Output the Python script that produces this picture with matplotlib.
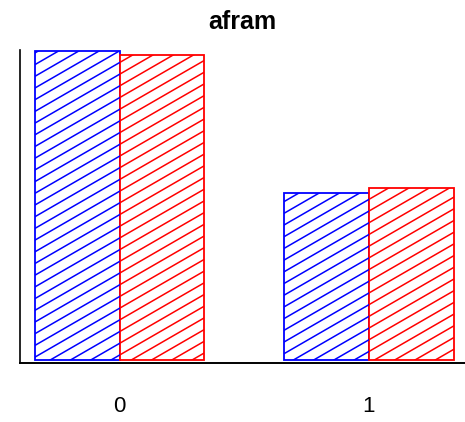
import numpy as np
import matplotlib
matplotlib.use("Agg")
import matplotlib.pyplot as plt
from matplotlib.lines import Line2D
from matplotlib.transforms import IdentityTransform

plt.rcParams["font.family"] = ["Liberation Sans", "DejaVu Sans"]

# grouped shares for the "afram" variable
categories = ["0", "1"]
series_a = [0.650, 0.352]   # blue bars
series_b = [0.642, 0.362]   # red bars
colors = ["#0000ff", "#ff0000"]

DPI = 100
fig = plt.figure(figsize=(4.65, 4.22), dpi=DPI)
ax = fig.add_axes([20 / 465, 59 / 422, 445 / 465, 313 / 422])

x = np.arange(len(categories))
width = 0.34
bars_a = ax.bar(x - width / 2, series_a, width, facecolor="white",
                edgecolor=colors[0], linewidth=1.3)
bars_b = ax.bar(x + width / 2, series_b, width, facecolor="white",
                edgecolor=colors[1], linewidth=1.3)

ax.set_xlim(-0.40, 1.386)
ax.set_ylim(-0.0063, 0.6526)

ax.set_xticks(x, categories)
ax.tick_params(axis="x", length=0, pad=24, labelsize=16)
ax.set_yticks([])

for side in ("top", "right"):
    ax.spines[side].set_visible(False)
ax.spines["left"].set_linewidth(1.2)
ax.spines["bottom"].set_linewidth(1.4)

ax.set_title("afram", fontsize=18, fontweight="bold", pad=15)

# 30-degree hatching drawn in pixel space, clipped to each bar
slope = np.tan(np.radians(30))
spacing = 11.7
offset = 9.6


def hatch_bar(rect, color):
    bb = rect.get_window_extent()
    x0, x1, y0, y1 = bb.x0, bb.x1, bb.y0, bb.y1
    cmin = y0 - slope * x1
    cmax = y1 - slope * x0
    k0 = np.floor((cmin - offset) / spacing)
    k1 = np.ceil((cmax - offset) / spacing)
    for k in np.arange(k0, k1 + 1):
        c = offset + k * spacing
        xs = np.array([x0 - 2, x1 + 2])
        ys = slope * xs + c
        ln = Line2D(xs, ys, transform=IdentityTransform(), color=color,
                    linewidth=1.1, solid_capstyle="butt")
        ln.set_clip_path(rect)
        fig.add_artist(ln)


for rect in bars_a:
    hatch_bar(rect, colors[0])
for rect in bars_b:
    hatch_bar(rect, colors[1])

fig.savefig("out.png", dpi=DPI)
